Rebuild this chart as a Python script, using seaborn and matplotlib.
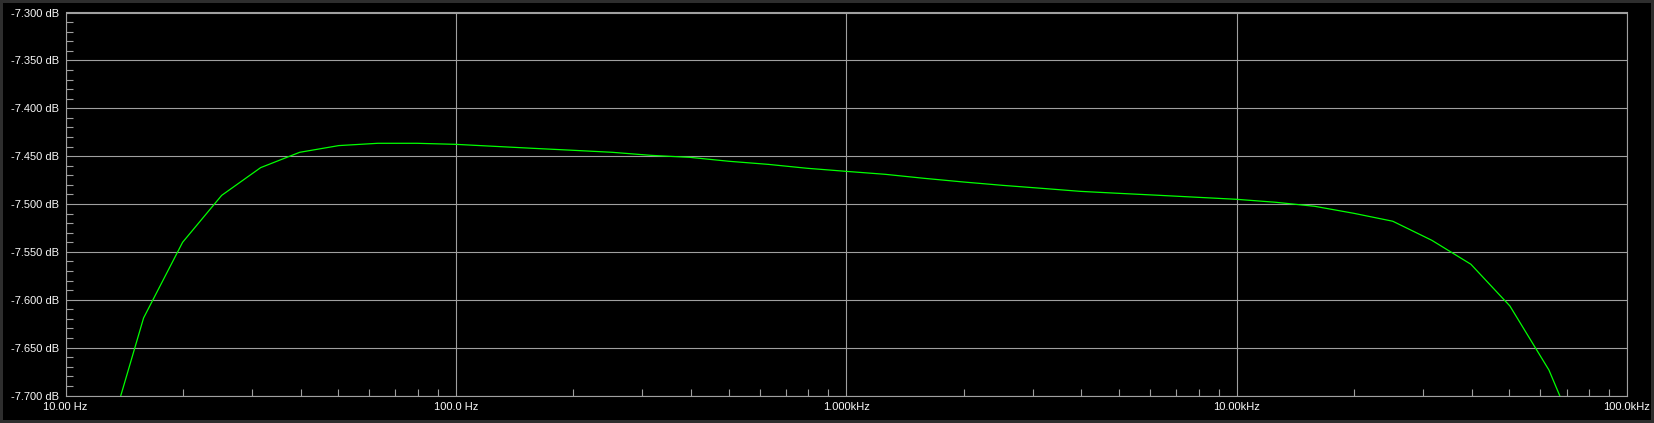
import matplotlib
matplotlib.use("Agg")
import matplotlib.pyplot as plt
from matplotlib.ticker import FixedLocator, NullFormatter
import seaborn as sns
import pandas as pd

# frequency response
freq_hz = [12.59, 15.85, 19.95, 25.12, 31.62, 39.81, 50.12, 63.10, 79.43,
           100.0, 125.9, 158.5, 199.5, 251.2, 316.2, 398.1, 501.2, 631.0, 794.3,
           1000, 1259, 1585, 1995, 2512, 3162, 3981, 5012, 6310, 7943,
           10000, 12590, 15850, 19950, 25120, 31620, 39810, 50120, 63100, 79430]
gain_db = [-7.758, -7.619, -7.540, -7.491, -7.462, -7.446, -7.439, -7.4366, -7.4366,
           -7.4377, -7.4398, -7.4419, -7.4439, -7.4460, -7.4492, -7.4513, -7.4554, -7.4586, -7.4627,
           -7.4659, -7.4690, -7.4732, -7.4770, -7.4805, -7.4836, -7.4868, -7.4889, -7.4909, -7.4930,
           -7.4951, -7.4982, -7.5024, -7.5097, -7.5180, -7.5379, -7.5629, -7.6065, -7.6734, -7.7700]

x_ticks = [10, 100, 1000, 10000, 100000]
x_labels = ['10.00 Hz', '100.0 Hz', '1.000kHz', '10.00kHz', '100.0kHz']
y_ticks = [-7.30, -7.35, -7.40, -7.45, -7.50, -7.55, -7.60, -7.65, -7.70]
y_labels = ['-7.300 dB', '-7.350 dB', '-7.400 dB', '-7.450 dB', '-7.500 dB',
            '-7.550 dB', '-7.600 dB', '-7.650 dB', '-7.700 dB']

GRID = '#a0a0a0'
TEXT = '#f8f8f8'

sns.set_style('dark')
plt.rcParams['font.family'] = ['Liberation Sans', 'DejaVu Sans']

df = pd.DataFrame({'freq': freq_hz, 'gain': gain_db})

fig = plt.figure(figsize=(16.54, 4.23), dpi=100, facecolor='black',
                 edgecolor='#2e2e2e', linewidth=3)
ax = fig.add_axes([65.5 / 1654, 27.5 / 423, 1561.5 / 1654, 383 / 423])
ax.set_facecolor('black')

sns.lineplot(data=df, x='freq', y='gain', color='#00ff00', linewidth=0.9, ax=ax)

ax.set_xscale('log')
ax.set_xlim(10, 100000)
ax.set_ylim(-7.7, -7.3)

ax.set_xticks(x_ticks)
ax.set_xticklabels(x_labels)
ax.set_yticks(y_ticks)
ax.set_yticklabels(y_labels)

minor_x = [m * d for d in [10, 100, 1000, 10000] for m in range(2, 10)]
minor_y = [round(-7.7 + 0.01 * i, 2) for i in range(41)]
minor_y = [v for v in minor_y if round(v * 100) % 5 != 0]
ax.xaxis.set_minor_locator(FixedLocator(minor_x))
ax.xaxis.set_minor_formatter(NullFormatter())
ax.yaxis.set_minor_locator(FixedLocator(minor_y))

ax.tick_params(which='major', length=0, labelsize=8, labelcolor=TEXT)
ax.tick_params(axis='x', which='major', pad=4.5)
ax.tick_params(axis='y', which='major', pad=4.5)
ax.tick_params(which='minor', direction='in', length=5, width=0.8, color=GRID,
               bottom=True, left=True, top=False, right=False)

ax.grid(True, which='major', color=GRID, linewidth=0.8)
for side in ['left', 'right', 'top', 'bottom']:
    ax.spines[side].set_visible(True)
    ax.spines[side].set_color(GRID)
    ax.spines[side].set_linewidth(0.8)

ax.set_xlabel('')
ax.set_ylabel('')

fig.savefig('out.png', dpi=100, facecolor='black', edgecolor='#2e2e2e')
